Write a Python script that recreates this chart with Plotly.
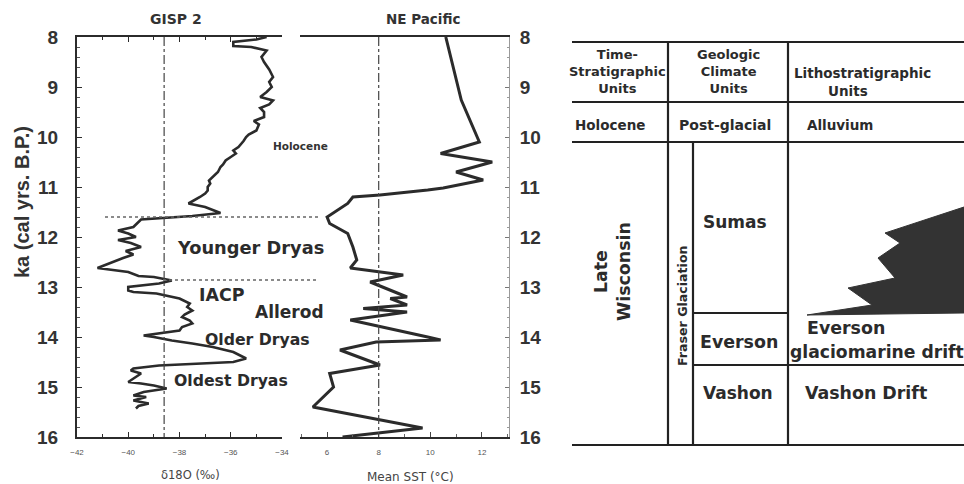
import plotly.graph_objects as go

W, H = 964, 484
def px(x): return x / W
def py(y): return 1 - y / H

# ---------------- data ----------------
gisp_ka = [8.00, 8.05, 8.10, 8.18, 8.20, 8.27, 8.40, 8.50, 8.65, 8.80, 8.90, 9.00, 9.10, 9.20, 9.27,
           9.35, 9.42, 9.50, 9.60, 9.68, 9.75, 9.87, 9.95, 10.00, 10.08, 10.13, 10.20, 10.27, 10.33,
           10.40, 10.47, 10.55, 10.60, 10.70, 10.80, 10.87, 10.93, 11.00, 11.07, 11.13, 11.20, 11.27,
           11.33, 11.40, 11.47, 11.52, 11.58, 11.62, 11.65, 11.75, 11.80, 11.87, 11.93, 12.00, 12.06,
           12.12, 12.20, 12.28, 12.35, 12.42, 12.50, 12.57, 12.62, 12.70, 12.78, 12.80, 12.87, 12.93,
           13.00, 13.07, 13.10, 13.13, 13.23, 13.33, 13.40, 13.47, 13.55, 13.60, 13.67, 13.73, 13.80,
           13.87, 13.93, 13.97, 14.00, 14.07, 14.13, 14.20, 14.30, 14.38, 14.43, 14.50, 14.53, 14.57,
           14.63, 14.67, 14.73, 14.83, 14.90, 14.93, 14.97, 15.03, 15.10, 15.17, 15.20, 15.27, 15.33,
           15.38, 15.43]
gisp_d18o = [-34.6, -35.0, -35.9, -35.9, -35.2, -34.6, -34.8, -34.7, -34.5, -34.35, -34.5, -34.4, -34.6,
             -34.85, -34.35, -34.5, -34.85, -34.7, -34.7, -35.1, -34.9, -35.0, -35.3, -35.4, -35.5, -35.6,
             -35.7, -35.9, -35.8, -36.0, -36.2, -36.3, -36.4, -36.5, -36.7, -36.85, -36.8, -36.9, -36.9,
             -37.0, -37.2, -37.45, -37.65, -37.0, -36.6, -36.4, -37.5, -38.5, -39.5, -39.7, -39.8, -40.4,
             -40.0, -39.7, -40.4, -39.9, -39.5, -40.1, -39.8, -40.2, -40.6, -41.0, -41.2, -40.0, -39.6,
             -39.0, -38.3, -38.8, -40.0, -40.0, -39.8, -38.9, -38.0, -37.6, -37.7, -37.5, -37.8, -37.9,
             -37.6, -37.5, -37.9, -38.0, -38.9, -39.4, -39.0, -38.3, -37.5, -36.7, -35.9, -35.6, -35.4,
             -35.9, -37.2, -38.8, -39.8, -39.9, -39.5, -39.8, -40.0, -39.5, -39.0, -38.5, -39.4, -39.8,
             -39.3, -39.8, -39.2, -39.6, -39.7]

pac_ka = [8.00, 9.26, 10.10, 10.33, 10.50, 10.70, 10.86, 11.02, 11.06, 11.16, 11.20, 11.33, 11.60, 11.73,
          11.93, 12.20, 12.46, 12.62, 12.76, 12.90, 13.20, 13.23, 13.36, 13.43, 13.50, 13.66, 14.00, 14.06,
          14.10, 14.26, 14.56, 14.73, 15.00, 15.40, 15.82, 16.00]
pac_sst = [10.6, 11.2, 11.9, 10.4, 12.4, 11.0, 12.05, 10.5, 9.9, 8.05, 7.0, 6.8, 6.0, 6.1,
           6.8, 7.0, 7.15, 6.9, 8.95, 7.67, 9.1, 8.45, 9.1, 7.4, 9.1, 6.9, 9.9, 10.4,
           7.9, 6.5, 8.05, 6.1, 6.25, 5.45, 9.7, 6.6]

ka_ticks = [8, 9, 10, 11, 12, 13, 14, 15, 16]
ka_labels = [f"<b>{v}</b>" for v in ka_ticks]
gisp_ticks = [-42, -40, -38, -36, -34]
pac_ticks = [6, 8, 10, 12]
gisp_ref = -38.6      # vertical reference line GISP2
pac_ref = 8           # vertical reference line NE Pacific
yd_start, yd_end = 11.6, 12.86   # Younger Dryas boundaries

events = ["Holocene", "Younger Dryas", "IACP", "Allerod", "Older Dryas", "Oldest Dryas"]

# ---------------- figure ----------------
INK = "#2b2b2b"
FONT = "Liberation Sans, Arial, sans-serif"
WIDE = "DejaVu Sans, Verdana, sans-serif"

fig = go.Figure()
fig.add_trace(go.Scatter(x=gisp_d18o, y=gisp_ka, mode="lines", line=dict(color=INK, width=2.6),
                         xaxis="x", yaxis="y", showlegend=False))
fig.add_trace(go.Scatter(x=pac_sst, y=pac_ka, mode="lines", line=dict(color=INK, width=3),
                         xaxis="x2", yaxis="y2", showlegend=False))

ydom = [py(437), py(37)]
fig.update_layout(
    template="none",
    width=W, height=H, margin=dict(l=0, r=0, t=0, b=0, pad=0, autoexpand=False),
    paper_bgcolor="white", plot_bgcolor="rgba(0,0,0,0)",
    font=dict(family=FONT, color=INK),
    xaxis=dict(domain=[px(77), px(282)], range=[-42, -34], anchor="y", automargin=False,
               showline=True, linecolor=INK, linewidth=2, mirror="ticks",
               ticks="inside", ticklen=5, tickcolor=INK, tickvals=gisp_ticks,
               minor=dict(ticks="inside", ticklen=3, dtick=1, tickcolor=INK),
               showgrid=False, zeroline=False, tickfont=dict(size=8, color="#555"),
               ticklabelstandoff=6),
    yaxis=dict(domain=ydom, range=[16, 8], anchor="x", automargin=False,
               showline=True, linecolor=INK, linewidth=2,
               ticks="inside", ticklen=5, tickcolor=INK, tickvals=ka_ticks, ticktext=ka_labels,
               minor=dict(ticks="inside", ticklen=3, dtick=0.2, tickcolor="#555"),
               showgrid=False, zeroline=False, tickfont=dict(size=19, color="#333"),
               ticklabelstandoff=13),
    xaxis2=dict(domain=[px(300), px(509)], range=[4.95, 13.05], anchor="y2", automargin=False,
                showline=True, linecolor=INK, linewidth=2, mirror=True,
                ticks="inside", ticklen=5, tickcolor="#444", tickvals=pac_ticks,
                minor=dict(ticks="inside", ticklen=3, dtick=1, tickcolor="#666"),
                showgrid=False, zeroline=False, tickfont=dict(size=8, color="#555"),
                ticklabelstandoff=6),
    yaxis2=dict(domain=ydom, range=[16, 8], anchor="x2", side="right", automargin=False,
                showline=True, linecolor="#9a9a9a", linewidth=1,
                ticks="inside", ticklen=4, tickcolor="#777", tickvals=ka_ticks, ticktext=ka_labels,
                minor=dict(ticks="inside", ticklen=2, dtick=0.2, tickcolor="#999"),
                showgrid=False, zeroline=False, tickfont=dict(size=19, color="#333"),
                ticklabelstandoff=6),
)

shapes = []
# reference vertical lines
shapes.append(dict(type="line", xref="x", yref="y", x0=gisp_ref, x1=gisp_ref, y0=8, y1=16,
                   line=dict(color="#444", width=1.2, dash="dashdot")))
shapes.append(dict(type="line", xref="x2", yref="y2", x0=pac_ref, x1=pac_ref, y0=8, y1=16,
                   line=dict(color="#444", width=1.2, dash="dashdot")))
# Younger Dryas boundaries
shapes.append(dict(type="line", xref="paper", yref="y", x0=px(105), x1=px(320), y0=yd_start, y1=yd_start,
                   line=dict(color="#666", width=1.5, dash="dot")))
shapes.append(dict(type="line", xref="paper", yref="y", x0=px(163), x1=px(316), y0=yd_end, y1=yd_end,
                   line=dict(color="#666", width=1.5, dash="dot")))

# ---- stratigraphic table (right) ----
def hline(x0, x1, y, w=2.2):
    shapes.append(dict(type="line", xref="paper", yref="paper", x0=px(x0), x1=px(x1), y0=py(y), y1=py(y),
                       line=dict(color="#222", width=w)))
def vline(x, y0, y1, w=2.2):
    shapes.append(dict(type="line", xref="paper", yref="paper", x0=px(x), x1=px(x), y0=py(y0), y1=py(y1),
                       line=dict(color="#222", width=w)))

hline(572, 964, 42)
hline(572, 964, 102)
hline(572, 964, 142)
hline(572, 964, 445)
vline(668, 42, 445)
vline(788, 42, 445)
vline(693, 142, 445)
hline(693, 788, 313)
hline(693, 964, 365)

wedge = [(964, 207), (885, 233), (900, 243), (878, 258), (895, 278), (848, 288), (872, 305),
         (807, 315), (964, 313)]
path = "M " + " L ".join(f"{px(a):.5f},{py(b):.5f}" for a, b in wedge) + " Z"
shapes.append(dict(type="path", xref="paper", yref="paper", path=path,
                   fillcolor="#333333", line=dict(color="#333333", width=1)))
fig.update_layout(shapes=shapes)

ann = []
def text(x, y, s, size, bold=True, color=INK, angle=0, xanchor="center", family=WIDE):
    ann.append(dict(x=px(x), y=py(y), xref="paper", yref="paper", text=(f"<b>{s}</b>" if bold else s),
                    showarrow=False, font=dict(size=size, color=color, family=family),
                    textangle=angle, xanchor=xanchor, yanchor="middle", align="center"))

# titles
text(176, 19, "GISP 2", 14, color="#333")
text(423, 19, "NE Pacific", 13.5, color="#333")
text(22, 202, "ka (cal yrs. B.P.)", 20, color="#333", angle=-90, family=FONT)
text(190, 475, "δ18O (‰)", 11.5, bold=False, color="#444")
text(410, 477, "Mean SST (°C)", 12, bold=False, color="#444")

# event labels
text(300, 146, events[0], 10.5, color="#333")
text(250, 248, events[1], 17.8)
text(222, 295, events[2], 17.4)
text(289, 312, events[3], 17)
text(257, 339, events[4], 15.7)
text(231, 380, events[5], 15.7)

# table text
text(617, 72, "Time-<br>Stratigraphic<br>Units", 13)
text(728, 72, "Geologic<br>Climate<br>Units", 13)
text(792, 73, "Lithostratigraphic", 13.5, xanchor="left")
text(848, 91, "Units", 13.5)
text(610, 125, "Holocene", 13.5)
text(725, 125, "Post-glacial", 14)
text(840, 125, "Alluvium", 13.5)
text(612, 272, "Late<br>Wisconsin", 17.4, angle=-90)
text(682, 306, "Fraser Glaciation", 12.6, angle=-90)
text(735, 222, "Sumas", 17)
text(739, 342, "Everson", 17.4)
text(846, 328, "Everson", 17.4)
text(877, 352, "glaciomarine drift", 17.2)
text(738, 393, "Vashon", 17)
text(866, 393, "Vashon Drift", 17.4)

fig.update_layout(annotations=ann)
fig.write_html("out.html", config={"displayModeBar": False},
               post_script="document.body.style.margin='0';document.body.style.overflow='hidden';")
